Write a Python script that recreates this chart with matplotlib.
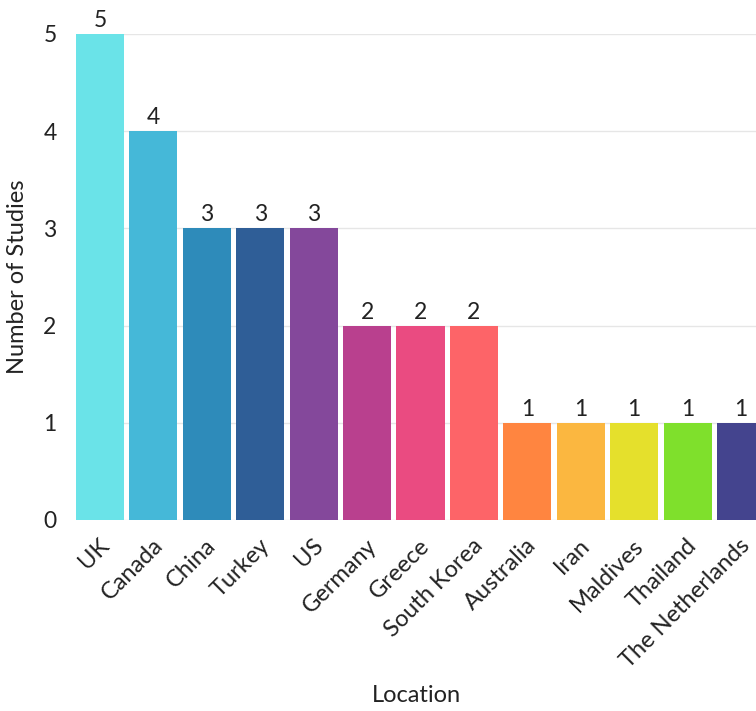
import matplotlib
matplotlib.use("Agg")
import matplotlib.pyplot as plt

locations = ["UK", "Canada", "China", "Turkey", "US", "Germany", "Greece",
             "South Korea", "Australia", "Iran", "Maldives", "Thailand", "The Netherlands"]
studies = [5, 4, 3, 3, 3, 2, 2, 2, 1, 1, 1, 1, 1]
colors = ["#6AE3E8", "#45B8D8", "#2E8BBA", "#2F5E97", "#84489B", "#B9408E", "#EA4B81",
          "#FD6468", "#FF8540", "#FBB740", "#E5E02C", "#7FE02C", "#44448E"]
y_ticks = [0, 1, 2, 3, 4, 5]

plt.rcParams['font.family'] = ['Lato', 'DejaVu Sans']

W, H = 756, 711
fig = plt.figure(figsize=(W / 100, H / 100), dpi=100)
left, right, top, bottom = 76, 765, 34, 520
ax = fig.add_axes([left / W, 1 - bottom / H, (right - left) / W, (bottom - top) / H])

x = list(range(len(locations)))
bars = ax.bar(x, studies, width=0.9, color=colors, zorder=3)
for xi, v in zip(x, studies):
    ax.text(xi, v + 0.03, str(v), ha="center", va="bottom", fontsize=16.5,
            color="#222222", clip_on=False)

ax.set_xlim(-0.45, len(locations) - 0.55)
ax.set_ylim(0, 5)
ax.set_yticks(y_ticks)
ax.set_yticklabels([str(t) for t in y_ticks], fontsize=16.5, color="#222222")
# labels sit slightly right of bar centres in the reference
ax.set_xticks([xi + 0.11 for xi in x])
ax.set_xticklabels(locations, rotation=45, ha="right", va="center",
                   rotation_mode="anchor", fontsize=17, color="#222222")
ax.tick_params(axis="both", length=0)
ax.tick_params(axis="x", pad=16)
ax.tick_params(axis="y", pad=14)
ax.yaxis.grid(True, color="#E6E6E6", linewidth=1, zorder=0)
ax.set_axisbelow(True)
for s in ax.spines.values():
    s.set_visible(False)

ax.set_ylabel("Number of Studies", fontsize=17, color="#222222", va="center")
ax.set_xlabel("Location", fontsize=17, color="#222222", va="center")
ax.xaxis.set_label_coords((416 - left) / (right - left), -(696 - bottom) / (bottom - top))
ax.yaxis.set_label_coords(-(left - 18) / (right - left), 0.5)

fig.savefig("out.png", dpi=100)
